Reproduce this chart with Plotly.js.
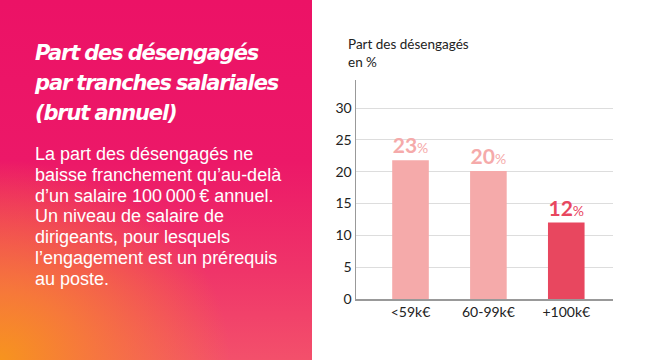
<!DOCTYPE html>
<html>
<head>
<meta charset="utf-8">
<script src="https://cdn.plot.ly/plotly-3.0.1.min.js"></script>
<style>
  html, body { margin: 0; padding: 0; background: #ffffff; }
  #wrap { position: relative; width: 650px; height: 360px; overflow: hidden; background: #ffffff; }
  #panel {
    position: absolute; left: 0; top: 0; width: 312px; height: 360px;
    background:
      radial-gradient(ellipse 230px 200px at 0px 360px, rgba(247,148,30,1) 0%, rgba(247,130,50,0.85) 35%, rgba(244,95,100,0.0) 100%),
      linear-gradient(180deg, #EC1266 0%, #EC1868 45%, #EF3469 75%, #F3506B 100%);
  }
  #title {
    position: absolute; left: 35px; top: 38px; color: #fff;
    font-family: "DejaVu Sans", sans-serif; font-weight: 700; font-style: italic;
    font-size: 21px; line-height: 30px; letter-spacing: -1.15px; word-spacing: -1px;
  }
  #body {
    position: absolute; left: 35px; top: 144px; color: #fff;
    font-family: "Liberation Sans", Arial, sans-serif; font-weight: 400;
    font-size: 18px; line-height: 20.8px;
  }
  #chart { position: absolute; left: 0; top: 0; width: 650px; height: 360px; }
</style>
</head>
<body>
<div id="wrap">
  <div id="panel">
    <div id="title">Part des désengagés<br>par tranches salariales<br>(brut annuel)</div>
    <div id="body">La part des désengagés ne<br>baisse franchement qu’au-delà<br>d’un salaire 100&#8239;000&#8239;€ annuel.<br>Un niveau de salaire de<br>dirigeants, pour lesquels<br>l’engagement est un prérequis<br>au poste.</div>
  </div>
  <div id="chart"></div>
</div>
<script>
const categories = ["<59k€", "60-99k€", "+100k€"];
const values = [21.8, 20.1, 12.0];
const labelValues = [23, 20, 12];
const barColors = ["#F5AAAA", "#F5AAAA", "#E8475F"];
const yTicks = [0, 5, 10, 15, 20, 25, 30];
const axisTitleLines = ["Part des désengagés", "en %"];

const labelText = labelValues.map(v => `<b>${v}</b><span style="font-size:14px">%</span>`);

const trace = {
  type: "bar",
  x: categories,
  y: values,
  width: 0.47,
  marker: { color: barColors },
  text: labelText,
  textposition: "outside",
  textfont: { family: "Lato, sans-serif", size: 21, color: barColors },
  cliponaxis: false,
  hoverinfo: "skip"
};

const layout = {
  width: 650, height: 360,
  margin: { l: 356, r: 37, t: 80, b: 61, pad: 0 },
  paper_bgcolor: "rgba(0,0,0,0)",
  plot_bgcolor: "rgba(0,0,0,0)",
  showlegend: false,
  font: { family: "Lato, sans-serif", size: 14, color: "#222" },
  xaxis: {
    type: "category",
    range: [-0.7, 2.6],
    showline: true, linecolor: "#999999", linewidth: 1.5,
    showgrid: false, ticks: "", zeroline: false,
    tickfont: { size: 14, color: "#222" },
    fixedrange: true
  },
  yaxis: {
    range: [0, 34.4],
    tickvals: yTicks,
    showline: true, linecolor: "#999999", linewidth: 1.5,
    showgrid: true, gridcolor: "#dddddd", gridwidth: 1,
    zeroline: false, ticks: "",
    tickfont: { size: 14, color: "#222" },
    fixedrange: true
  },
  annotations: [{
    xref: "paper", yref: "paper",
    x: -0.04, y: 1.0, xanchor: "left", yanchor: "bottom",
    yshift: 8,
    text: axisTitleLines.join("<br>"),
    showarrow: false, align: "left",
    font: { family: "Lato, sans-serif", size: 13.5, color: "#222" }
  }],
  bargap: 0.5
};

Plotly.newPlot("chart", [trace], layout, { displayModeBar: false, staticPlot: true });
</script>
</body>
</html>
